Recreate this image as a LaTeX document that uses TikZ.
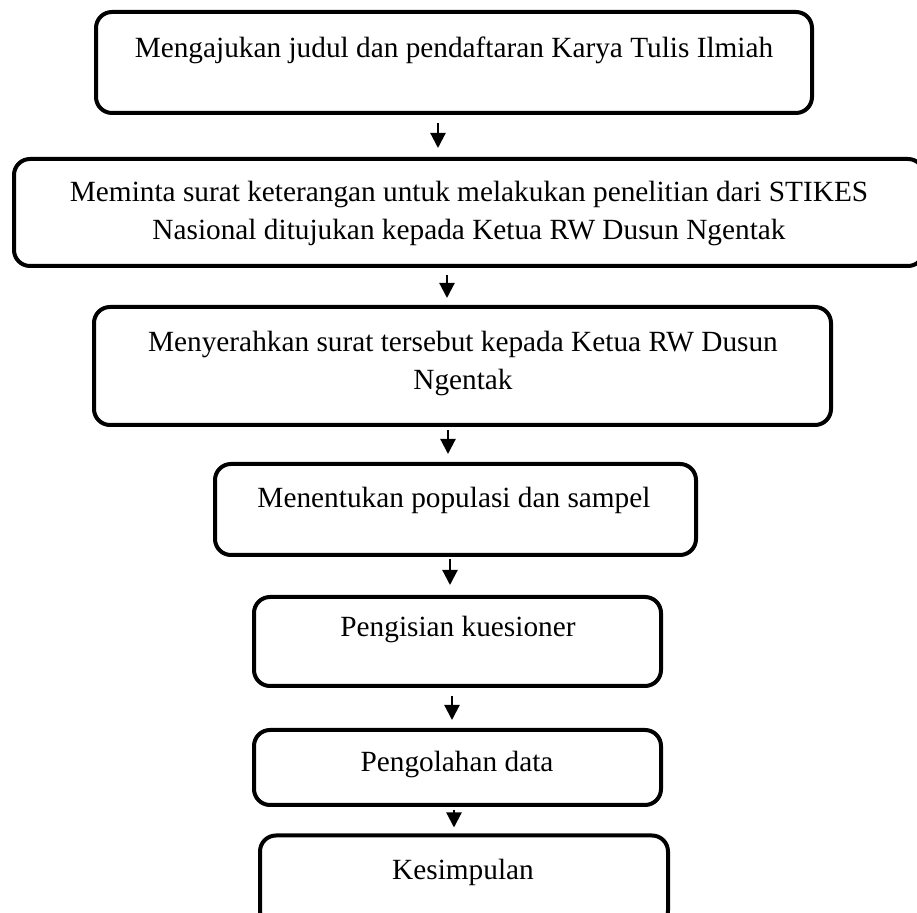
\documentclass[tikz,border=0pt]{standalone}
\usepackage{fontspec}
\setmainfont{Liberation Serif}
\usetikzlibrary{calc}
\usetikzlibrary{arrows.meta}

\begin{document}
\begin{tikzpicture}[x=0.5pt,y=-0.5pt,
    stepbox/.style={draw=black, line width=2pt, rounded corners=8pt, inner sep=0pt},
    steptext/.style={align=center, inner sep=0pt, font=\fontsize{14.65}{19}\selectfont},
    flow/.style={-{Triangle[length=7.5pt,width=7.5pt]}, line width=1.1pt}]
\useasboundingbox (0,0) rectangle (917,913);
\clip (0,0) rectangle (917,913);

\coordinate (C1) at (454,62.5);
\coordinate (C2) at (469,212.5);
\coordinate (C3) at (462.5,366);
\coordinate (C4) at (455.5,509.5);
\coordinate (C5) at (457.5,641.5);
\coordinate (C6) at (457.5,767.5);
\coordinate (C7) at (464,881);

\node[stepbox, minimum width=358pt, minimum height=50.5pt] (s1) at (C1) {};
\node[stepbox, minimum width=455pt, minimum height=53.5pt] (s2) at (C2) {};
\node[stepbox, minimum width=368.5pt, minimum height=59pt] (s3) at (C3) {};
\node[stepbox, minimum width=240.5pt, minimum height=45.5pt] (s4) at (C4) {};
\node[stepbox, minimum width=203.5pt, minimum height=44.5pt] (s5) at (C5) {};
\node[stepbox, minimum width=203.5pt, minimum height=37.5pt] (s6) at (C6) {};
\node[stepbox, minimum width=204pt, minimum height=45.5pt] (s7) at (C7) {};

\node[steptext] (t1) at (454,50) {Mengajukan judul dan pendaftaran Karya Tulis Ilmiah};
\node[steptext] (t2) at (469,214) {Meminta surat keterangan untuk melakukan penelitian dari STIKES\\
    Nasional ditujukan kepada Ketua RW Dusun Ngentak};
\node[steptext] (t3) at (463,364) {Menyerahkan surat tersebut kepada Ketua RW Dusun\\ Ngentak};
\node[steptext] (t4) at (454,500) {Menentukan populasi dan sampel};
\node[steptext] (t5) at (458,630) {Pengisian kuesioner};
\node[steptext] (t6) at (457,765) {Pengolahan data};
\node[steptext] (t7) at (463,872) {Kesimpulan};

\coordinate (a1) at ([xshift=-8pt]s1.south);
\coordinate (a2) at ([xshift=-11pt]s2.south);
\coordinate (a3) at ([xshift=-7.25pt]s3.south);
\coordinate (a4) at ([xshift=-2.75pt]s4.south);
\coordinate (a5) at ([xshift=-2.75pt]s5.south);
\coordinate (a6) at ([xshift=-1.75pt]s6.south);

\draw[flow, shorten <=4pt, shorten >=4.5pt] (a1) -- (a1 |- s2.north);
\draw[flow, shorten <=3.5pt, shorten >=3.5pt] (a2) -- (a2 |- s3.north);
\draw[flow, shorten <=1.5pt, shorten >=4pt] (a3) -- (a3 |- s4.north);
\draw[flow, shorten <=1pt, shorten >=5pt] (a4) -- (a4 |- s5.north);
\draw[flow, shorten <=4pt, shorten >=4pt] (a5) -- (a5 |- s6.north);
\draw[flow, shorten <=1.5pt, shorten >=3pt] (a6) -- (a6 |- s7.north);
\end{tikzpicture}
\end{document}
